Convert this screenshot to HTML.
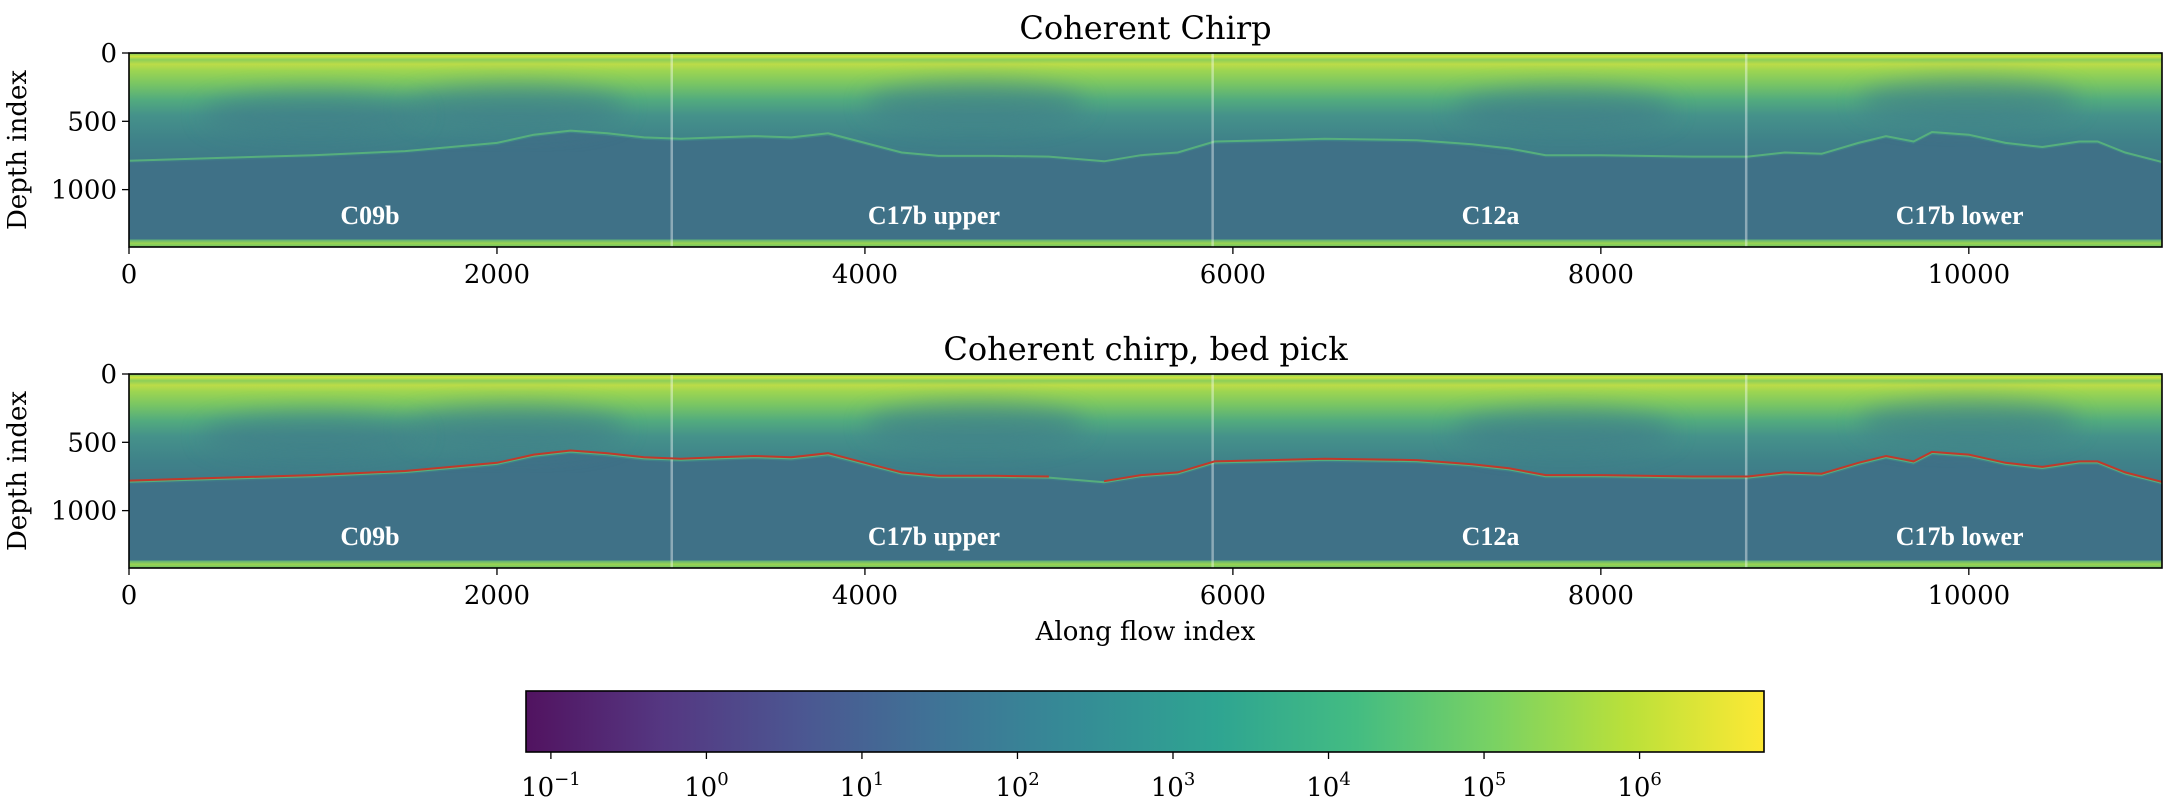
<!DOCTYPE html>
<html><head><meta charset="utf-8"><style>
html,body{margin:0;padding:0;background:#fff;width:2172px;height:812px;overflow:hidden}
svg{display:block;font-family:"DejaVu Serif","Liberation Serif",serif}
</style></head><body>
<svg id="fig" width="2172" height="812" viewBox="0 0 2172 812" xmlns="http://www.w3.org/2000/svg">
<defs>
<linearGradient id="upper" x1="0" y1="0" x2="0" y2="1" gradientUnits="objectBoundingBox">
<stop offset="0" stop-color="#74c860"/>
<stop offset="0.03" stop-color="#d0e23c"/>
<stop offset="0.06" stop-color="#8ccf59"/>
<stop offset="0.10" stop-color="#bcdc48"/>
<stop offset="0.16" stop-color="#9cd551"/>
<stop offset="0.28" stop-color="#78c564"/>
<stop offset="0.42" stop-color="#52ab7e"/>
<stop offset="0.56" stop-color="#45928a"/>
<stop offset="0.78" stop-color="#3f8289"/>
<stop offset="1" stop-color="#3f7888"/>
</linearGradient>
<linearGradient id="botband" x1="0" y1="0" x2="0" y2="1">
<stop offset="0" stop-color="#5aae7c"/>
<stop offset="0.5" stop-color="#9ad452"/>
<stop offset="1" stop-color="#6cc465"/>
</linearGradient>
<linearGradient id="viridis" x1="0" y1="0" x2="1" y2="0">
<stop offset="0" stop-color="#440154"/>
<stop offset="0.11" stop-color="#482878"/>
<stop offset="0.22" stop-color="#3e4989"/>
<stop offset="0.33" stop-color="#31688e"/>
<stop offset="0.44" stop-color="#26828e"/>
<stop offset="0.56" stop-color="#1f9e89"/>
<stop offset="0.67" stop-color="#35b779"/>
<stop offset="0.78" stop-color="#6ece58"/>
<stop offset="0.89" stop-color="#b5de2b"/>
<stop offset="1" stop-color="#fde725"/>
</linearGradient>
<filter id="blur" x="-50%" y="-50%" width="200%" height="200%"><feGaussianBlur stdDeviation="12"/></filter>
</defs>
</svg>
<script>
// data
const bedX = [0,500,1000,1500,2000,2200,2400,2600,2800,3000,3200,3400,3600,3800,4000,4200,4400,4700,5000,5300,5500,5700,5900,6200,6500,7000,7300,7500,7700,8000,8500,8800,9000,9200,9400,9550,9700,9800,10000,10200,10400,10600,10700,10850,11050];
const bedY = [780,760,740,710,650,590,560,580,610,620,610,600,610,580,650,720,745,745,750,785,740,720,640,630,620,630,660,690,740,740,750,750,720,730,650,600,640,570,590,650,680,640,640,720,790];
const pickGapStart = 5000, pickGapEnd = 5300;
const xTicks = [0,2000,4000,6000,8000,10000];
const yTicks = [0,500,1000];
const dividers = [2950,5890,8790];
const regionNames = ["C09b","C17b upper","C12a","C17b lower"];
const regionX = [1310,4375,7400,9950];
const cbTicksExp = [-1,0,1,2,3,4,5,6];
const darkBlobs = [[2100,400],[4600,380],[7800,420],[10000,360],[1000,450]];

const NS="http://www.w3.org/2000/svg";
const svg=document.getElementById('fig');
function el(t,a,p){const e=document.createElementNS(NS,t);for(const k in a)e.setAttribute(k,a[k]);(p||svg).appendChild(e);return e;}
const X0=129,X1=2162,XMAX=11050,DMAX=1420;
const sx=v=>X0+(v/XMAX)*(X1-X0);

function panel(top,bottom,title,withPick,idx){
  const H=bottom-top;
  const sy=d=>top+d/DMAX*H;
  const g=el('g',{});
  
  
  const cp=el('clipPath',{id:'clip'+idx},g);
  el('rect',{x:X0,y:top,width:X1-X0,height:H},cp);
  const img=el('g',{'clip-path':'url(#clip'+idx+')'},g);
  
  
  el('rect',{x:X0,y:top,width:X1-X0,height:H,fill:'#3f7187'},img);
  let d='M'+X0+','+top;
  for(let i=0;i<bedX.length;i++) d+=' L'+sx(bedX[i]).toFixed(1)+','+sy(bedY[i]+25).toFixed(1);
  d+=' L'+X1+','+top+' Z';
  el('path',{d:d,fill:'url(#upper)'},img);
  for(const b of darkBlobs) el('ellipse',{cx:sx(b[0]),cy:sy(b[1]),rx:110,ry:22,fill:'#3f7a88',opacity:0.6,filter:'url(#blur)'},img);
  let bl='';
  for(let i=0;i<bedX.length;i++) bl+=(i?' L':'M')+sx(bedX[i]).toFixed(1)+','+sy(bedY[i]+8).toFixed(1);
  const bline=el('path',{d:bl,fill:'none',stroke:'#5dbb7a','stroke-width':2,opacity:0.8},img);
  
  
  el('rect',{x:X0,y:sy(1365),width:X1-X0,height:sy(DMAX)-sy(1365),fill:'url(#botband)'},img);
  for(const v of dividers){
    const l=el('line',{x1:sx(v),x2:sx(v),y1:top,y2:bottom,stroke:'#ffffff','stroke-width':2.5,opacity:0.4},img);
    
    
  }
  if(withPick){
    let segs=['',''];
    for(let i=0;i<bedX.length;i++){
      const k=bedX[i]<=pickGapStart?0:(bedX[i]>=pickGapEnd?1:-1);
      if(k<0)continue;
      segs[k]+=(segs[k]?' L':'M')+sx(bedX[i]).toFixed(1)+','+sy(bedY[i]).toFixed(1);
    }
    for(const s of segs){
      const p=el('path',{d:s,fill:'none',stroke:'#c0392b','stroke-width':2},img);
      
      
    }
  }
  for(let i=0;i<regionNames.length;i++){
    const t=el('text',{x:sx(regionX[i]),y:sy(1250),'text-anchor':'middle','font-size':26,'font-weight':'bold',fill:'#ffffff','font-family':'"Liberation Serif",serif'},g);
    t.textContent=regionNames[i];
    
    
  }
  const fr=el('rect',{x:X0,y:top,width:X1-X0,height:H,fill:'none',stroke:'#000','stroke-width':1.6},g);
  
  
  for(const v of xTicks){
    el('line',{x1:sx(v),x2:sx(v),y1:bottom,y2:bottom+7,stroke:'#000','stroke-width':1.3},g);
    const t=el('text',{x:sx(v),y:bottom+36,'text-anchor':'middle','font-size':26},g);
    t.textContent=v;
    
    
  }
  for(const v of yTicks){
    el('line',{x1:X0-7,x2:X0,y1:sy(v),y2:sy(v),stroke:'#000','stroke-width':1.3},g);
    const t=el('text',{x:X0-12,y:sy(v)+9,'text-anchor':'end','font-size':26},g);
    t.textContent=v;
    
    
  }
  const yl=el('text',{x:0,y:0,transform:'translate(26,'+(top+H/2)+') rotate(-90)','text-anchor':'middle','font-size':26},g);
  yl.textContent='Depth index';
  
  
  const tt=el('text',{x:(X0+X1)/2,y:top-14,'text-anchor':'middle','font-size':32},g);
  tt.textContent=title;
  
  
}
panel(53,247,'Coherent Chirp',false,1);
panel(374,568,'Coherent chirp, bed pick',true,2);
const xl=el('text',{x:(X0+X1)/2,y:640,'text-anchor':'middle','font-size':26});
xl.textContent='Along flow index';



// colorbar
const CB0=526,CB1=1764,CBT=691,CBB=752;
const cbMin=-1.16,cbMax=6.8;
const cx=e=>CB0+(e-cbMin)/(cbMax-cbMin)*(CB1-CB0);
const cb=el('rect',{x:CB0,y:CBT,width:CB1-CB0,height:CBB-CBT,fill:'url(#viridis)',opacity:0.93});


el('rect',{x:CB0,y:CBT,width:CB1-CB0,height:CBB-CBT,fill:'none',stroke:'#000','stroke-width':1.6});
for(const e of cbTicksExp){
  el('line',{x1:cx(e),x2:cx(e),y1:CBB,y2:CBB+7,stroke:'#000','stroke-width':1.3});
  const t=el('text',{x:cx(e),y:CBB+44,'text-anchor':'middle','font-size':26});
  
  
  const a=el('tspan',{},t);a.textContent='10';
  const b=el('tspan',{dy:-11,'font-size':18},t);b.textContent=(e<0?'\u2212':'')+Math.abs(e);
}
</script>
</body></html>
